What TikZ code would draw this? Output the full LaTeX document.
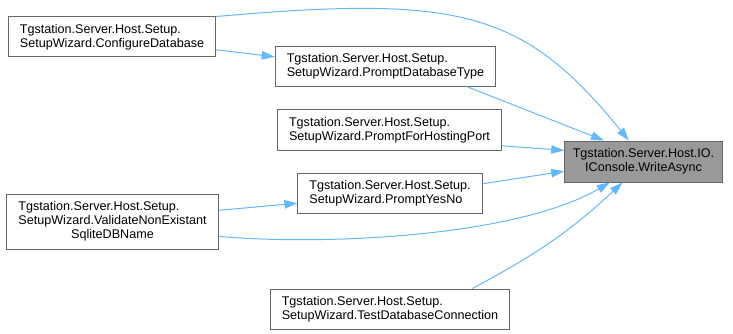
\documentclass[tikz,border=0pt]{standalone}
\usepackage{fontspec}
\setmainfont{Liberation Sans}
\usetikzlibrary{arrows.meta}
\definecolor{edgeblue}{HTML}{63B8FF}
\definecolor{boxgray}{HTML}{666666}
\definecolor{mainfill}{HTML}{999999}

\begin{document}
\begin{tikzpicture}[x=1pt,y=1pt,
  fn/.style={draw=boxgray, fill=white, line width=1pt, align=left, inner xsep=11.5pt,
    minimum height=40pt, font=\fontsize{12.6}{14}\selectfont},
  call/.style={draw=edgeblue, line width=1pt, -{Triangle[length=13pt,width=8.5pt]}}]
\useasboundingbox (0,0) rectangle (733,-334);
\node[fn] (1) at (112,-37) {Tgstation.Server.Host.Setup.\\SetupWizard.ConfigureDatabase};
\node[fn] (2) at (385.5,-66.5) {Tgstation.Server.Host.Setup.\\SetupWizard.PromptDatabaseType};
\node[fn] (3) at (389.5,-130) {Tgstation.Server.Host.Setup.\\SetupWizard.PromptForHostingPort};
\node[fn] (4) at (390,-193.5) {Tgstation.Server.Host.Setup.\\SetupWizard.PromptYesNo};
\node[fn, minimum height=55pt] (5) at (112.5,-221.5) {\begin{tabular}{@{}l@{}}Tgstation.Server.Host.Setup.\\SetupWizard.ValidateNonExistant\\\multicolumn{1}{@{}c@{}}{SqliteDBName}\end{tabular}};
\node[fn] (6) at (390,-309) {Tgstation.Server.Host.Setup.\\SetupWizard.TestDatabaseConnection};
\node[fn, fill=mainfill, align=center, inner xsep=8pt, minimum height=41pt] (7) at (643.5,-161.5) {Tgstation.Server.Host.IO.\\IConsole.WriteAsync};

\path[call] (1.north east) to[out=5,in=129,out looseness=1.45,in looseness=1] (7.125);
\path[call] (1.-7) -- (2.175);
\path[call] (2.-14) -- (7.152);
\path[call] (3.-8) -- (7.172);
\path[call] (4.6) -- (7.-173);
\path[call] (5.6) -- (4.-174);
\path[call] (5.-8) to[out=-5,in=-150,looseness=0.7] (7.-148);
\path[call] (6.14) to[out=28,in=-137] (7.-135);

\end{tikzpicture}
\end{document}
